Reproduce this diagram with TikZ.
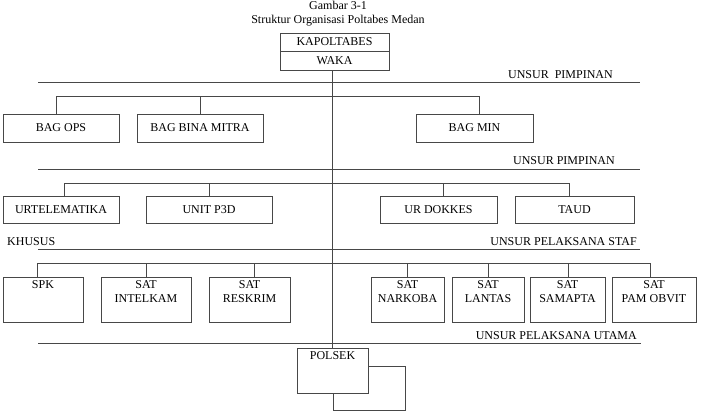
\documentclass[tikz,border=0pt]{standalone}
\usepackage{fontspec}
\setmainfont{Liberation Serif}
\begin{document}
\begin{tikzpicture}[x=1pt,y=-1pt,
  every node/.style={font=\fontsize{12}{14}\selectfont, text=black},
  ln/.style={draw=black!72, line width=0.9pt},
  box/.style={ln, rectangle, inner sep=0pt, fill=white},
  lbl/.style={anchor=base, inner sep=0pt},
  top/.style={anchor=north, align=center, inner sep=0pt, yshift=-3.5pt}
]
\useasboundingbox (0,0) rectangle (703,416);

% titles
\node[lbl] (t1) at (338,9.5) {Gambar 3-1};
\node[lbl] (t2) at (338,23.5) {Struktur Organisasi Poltabes Medan};

% top box
\node[box, minimum width=109pt, minimum height=18pt] (kap) at (334.5,42) {KAPOLTABES};
\node[box, minimum width=109pt, minimum height=19pt] (waka) at (334.5,60.5) {WAKA};

% section lines and labels
\coordinate (s1a) at (38,82.5);  \coordinate (s1b) at (640,82.5);
\coordinate (s2a) at (38,169);   \coordinate (s2b) at (640,169);
\coordinate (s3a) at (38,249.5); \coordinate (s3b) at (640,249.5);
\coordinate (s4a) at (38,343);   \coordinate (s4b) at (641,343);
\draw[ln] (s1a) -- (s1b);
\draw[ln] (s2a) -- (s2b);
\draw[ln] (s3a) -- (s3b);
\draw[ln] (s4a) -- (s4b);
\node[lbl, anchor=base east] (l1) at (613,78) {UNSUR\ \ PIMPINAN};
\node[lbl, anchor=base east] (l2) at (615,164) {UNSUR PIMPINAN};
\node[lbl, anchor=base west] (l3) at (7,245.5) {KHUSUS};
\node[lbl, anchor=base east] (l4) at (637,245.5) {UNSUR PELAKSANA STAF};
\node[lbl, anchor=base east] (l5) at (637,339) {UNSUR PELAKSANA UTAMA};

% polsek with shadow frame
\node[box, minimum width=72pt, minimum height=44pt] (shadow) at (369,388) {};
\node[box, minimum width=71pt, minimum height=45pt] (polsek) at (332.5,370.5) {};
\node[top] (polsektxt) at (polsek.north) {POLSEK};

% spine
\draw[ln] (waka.south -| polsek.north) -- (polsek.north);

% row 1
\node[box, minimum width=116pt, minimum height=28pt] (ops) at (61,128) {BAG OPS};
\node[box, minimum width=126pt, minimum height=28pt] (bina) at (200,128) {BAG BINA MITRA};
\node[box, minimum width=117pt, minimum height=28pt] (min) at (474.5,128) {BAG MIN};
\coordinate (a1) at (56,96); \coordinate (a2) at (200,96); \coordinate (a3) at (479,96);
\draw[ln] (a1) -- (a3);
\draw[ln] (a1) -- (a1 |- ops.north);
\draw[ln] (a2) -- (a2 |- bina.north);
\draw[ln] (a3) -- (a3 |- min.north);

% row 2
\node[box, minimum width=116pt, minimum height=27pt] (urt) at (61,209.5) {URTELEMATIKA};
\node[box, minimum width=126pt, minimum height=27pt] (p3d) at (209,209.5) {UNIT P3D};
\node[box, minimum width=117pt, minimum height=27pt] (dok) at (438.5,209.5) {UR DOKKES};
\node[box, minimum width=119pt, minimum height=27pt] (taud) at (574.5,209.5) {TAUD};
\coordinate (b1) at (64,183); \coordinate (b2) at (209,183); \coordinate (b3) at (443,183); \coordinate (b4) at (569,183);
\draw[ln] (b1) -- (b4);
\draw[ln] (b1) -- (b1 |- urt.north);
\draw[ln] (b2) -- (b2 |- p3d.north);
\draw[ln] (b3) -- (b3 |- dok.north);
\draw[ln] (b4) -- (b4 |- taud.north);

% row 3
\node[box, minimum width=80pt, minimum height=45pt] (spk) at (43,299.5) {};
\node[box, minimum width=90pt, minimum height=45pt] (intel) at (146,299.5) {};
\node[box, minimum width=81pt, minimum height=45pt] (resk) at (249.5,299.5) {};
\node[box, minimum width=73pt, minimum height=45pt] (nark) at (407.5,299.5) {};
\node[box, minimum width=72pt, minimum height=45pt] (lant) at (488,299.5) {};
\node[box, minimum width=75pt, minimum height=45pt] (sama) at (567.5,299.5) {};
\node[box, minimum width=84pt, minimum height=45pt] (pam) at (654,299.5) {};
\node[top] (spktxt) at (spk.north) {SPK};
\node[top] (inteltxt) at (intel.north) {SAT\\INTELKAM};
\node[top] (resktxt) at (resk.north) {SAT\\RESKRIM};
\node[top] (narktxt) at (nark.north) {SAT\\NARKOBA};
\node[top] (lanttxt) at (lant.north) {SAT\\LANTAS};
\node[top] (samatxt) at (sama.north) {SAT\\SAMAPTA};
\node[top] (pamtxt) at (pam.north) {SAT\\PAM OBVIT};
\coordinate (c1) at (37,263); \coordinate (c2) at (146,263); \coordinate (c3) at (254,263);
\coordinate (c4) at (407,263); \coordinate (c5) at (488,263); \coordinate (c6) at (568,263); \coordinate (c7) at (650,263);
\draw[ln] (c1) -- (c7);
\draw[ln] (c1) -- (c1 |- spk.north);
\draw[ln] (c2) -- (c2 |- intel.north);
\draw[ln] (c3) -- (c3 |- resk.north);
\draw[ln] (c4) -- (c4 |- nark.north);
\draw[ln] (c5) -- (c5 |- lant.north);
\draw[ln] (c6) -- (c6 |- sama.north);
\draw[ln] (c7) -- (c7 |- pam.north);
\end{tikzpicture}
\end{document}
